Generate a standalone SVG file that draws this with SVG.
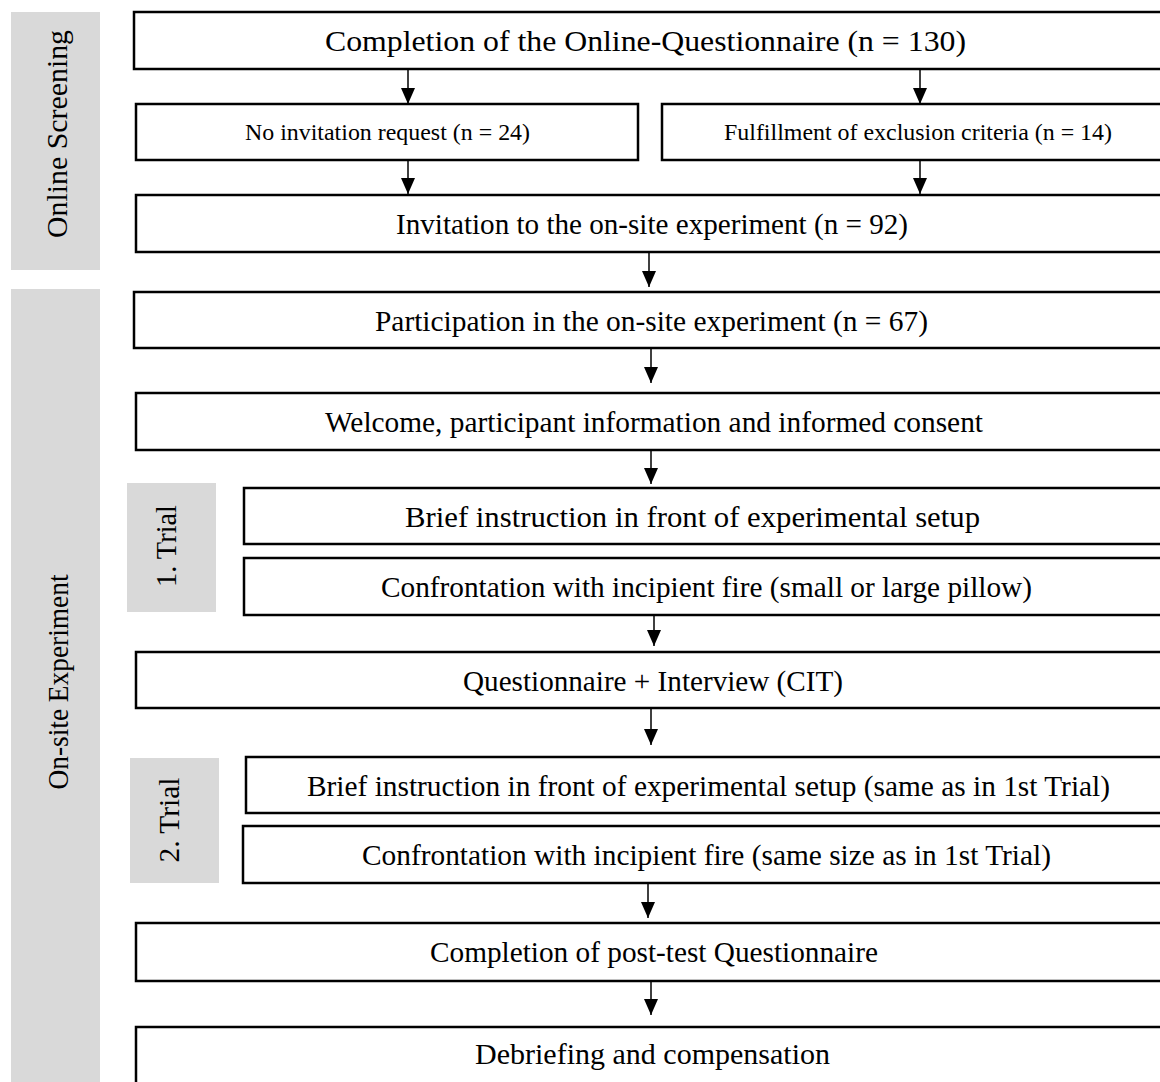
<svg xmlns="http://www.w3.org/2000/svg" width="1160" height="1082" viewBox="0 0 1160 1082">
<style>
.box{fill:#fff;stroke:#000;stroke-width:2.5}
.band{fill:#d9d9d9}
.t{font-family:"Liberation Serif","Times New Roman",serif;font-size:30px;fill:#000;text-anchor:middle}
.s{font-family:"Liberation Serif","Times New Roman",serif;font-size:23px;fill:#000;text-anchor:middle}
.v{font-family:"Liberation Serif","Times New Roman",serif;font-size:29px;fill:#000;text-anchor:middle}
.c{stroke:#000;stroke-width:1.5;fill:none;marker-end:url(#ah)}
</style>
<defs>
<marker id="ah" viewBox="0 0 16 14" refX="16" refY="7" markerWidth="16" markerHeight="14" markerUnits="userSpaceOnUse" orient="auto">
<path d="M0,0 L16,7 L0,14 Z" fill="#000"/>
</marker>
</defs>
<rect width="1160" height="1082" fill="#fff"/>
<g id="band-online">
<rect class="band" x="11" y="12" width="89" height="258"/>
<text class="v" transform="translate(67,134) rotate(-90)" textLength="208" lengthAdjust="spacingAndGlyphs">Online Screening</text>
</g>
<g id="band-onsite">
<rect class="band" x="11" y="289" width="89" height="793"/>
<text class="v" transform="translate(68,682) rotate(-90)" textLength="215" lengthAdjust="spacingAndGlyphs">On-site Experiment</text>
</g>
<g id="band-trial1">
<rect class="band" x="127" y="483" width="89" height="129"/>
<text class="v" transform="translate(176,546) rotate(-90)" textLength="82" lengthAdjust="spacingAndGlyphs">1. Trial</text>
</g>
<g id="band-trial2">
<rect class="band" x="130" y="758" width="89" height="125"/>
<text class="v" transform="translate(179,820) rotate(-90)" textLength="85" lengthAdjust="spacingAndGlyphs">2. Trial</text>
</g>
<g id="n1"><rect class="box" x="134" y="12" width="1040" height="57"/><text class="t" x="645.5" y="51" textLength="641" lengthAdjust="spacingAndGlyphs">Completion of the Online-Questionnaire (n = 130)</text></g>
<g id="n2"><rect class="box" x="136" y="104" width="502" height="56"/><text class="s" x="387.5" y="140" textLength="285" lengthAdjust="spacingAndGlyphs">No invitation request (n = 24)</text></g>
<g id="n3"><rect class="box" x="662" y="104" width="510" height="56"/><text class="s" x="918" y="140" textLength="388" lengthAdjust="spacingAndGlyphs">Fulfillment of exclusion criteria (n = 14)</text></g>
<g id="n4"><rect class="box" x="136" y="195" width="1040" height="57"/><text class="t" x="652" y="234" textLength="512" lengthAdjust="spacingAndGlyphs">Invitation to the on-site experiment (n = 92)</text></g>
<g id="n5"><rect class="box" x="134" y="292" width="1040" height="56"/><text class="t" x="651.5" y="331" textLength="553" lengthAdjust="spacingAndGlyphs">Participation in the on-site experiment (n = 67)</text></g>
<g id="n6"><rect class="box" x="136" y="393" width="1040" height="57"/><text class="t" x="654" y="432" textLength="658" lengthAdjust="spacingAndGlyphs">Welcome, participant information and informed consent</text></g>
<g id="n7"><rect class="box" x="244" y="488" width="930" height="56"/><text class="t" x="692.5" y="527" textLength="575" lengthAdjust="spacingAndGlyphs">Brief instruction in front of experimental setup</text></g>
<g id="n8"><rect class="box" x="244" y="558" width="930" height="57"/><text class="t" x="706.5" y="597" textLength="651" lengthAdjust="spacingAndGlyphs">Confrontation with incipient fire (small or large pillow)</text></g>
<g id="n9"><rect class="box" x="136" y="652" width="1040" height="56"/><text class="t" x="653" y="691" textLength="380" lengthAdjust="spacingAndGlyphs">Questionnaire + Interview (CIT)</text></g>
<g id="n10"><rect class="box" x="246" y="757" width="930" height="56"/><text class="t" x="708.5" y="796" textLength="803" lengthAdjust="spacingAndGlyphs">Brief instruction in front of experimental setup (same as in 1st Trial)</text></g>
<g id="n11"><rect class="box" x="243" y="826" width="930" height="57"/><text class="t" x="706.5" y="865" textLength="689" lengthAdjust="spacingAndGlyphs">Confrontation with incipient fire (same size as in 1st Trial)</text></g>
<g id="n12"><rect class="box" x="136" y="923" width="1040" height="58"/><text class="t" x="654" y="962" textLength="448" lengthAdjust="spacingAndGlyphs">Completion of post-test Questionnaire</text></g>
<g id="n13"><rect class="box" x="136" y="1027" width="1040" height="70"/><text class="t" x="652.5" y="1064" textLength="355" lengthAdjust="spacingAndGlyphs">Debriefing and compensation</text></g>
<g id="connectors">
<line class="c" x1="408" y1="70" x2="408" y2="104"/>
<line class="c" x1="920" y1="70" x2="920" y2="104"/>
<line class="c" x1="408" y1="161" x2="408" y2="194"/>
<line class="c" x1="920" y1="161" x2="920" y2="194"/>
<line class="c" x1="649" y1="253" x2="649" y2="287"/>
<line class="c" x1="651" y1="349" x2="651" y2="383"/>
<line class="c" x1="651" y1="451" x2="651" y2="484"/>
<line class="c" x1="654" y1="616" x2="654" y2="646"/>
<line class="c" x1="651" y1="709" x2="651" y2="745"/>
<line class="c" x1="648" y1="884" x2="648" y2="918"/>
<line class="c" x1="651" y1="982" x2="651" y2="1015"/>
</g>
</svg>
